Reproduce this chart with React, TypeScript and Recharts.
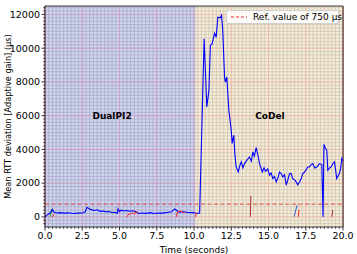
import React from "react";
import {
    LineChart,
    Line,
    XAxis,
    YAxis,
    CartesianGrid,
    ReferenceArea,
    ReferenceLine,
    ReferenceDot,
} from "recharts";

// time (s) and mean RTT deviation (µs) of the main flow
const times = [
    0.0, 0.15, 0.3, 0.45, 0.5, 0.6, 0.8, 1.0, 1.3, 1.6, 1.9, 2.2, 2.5, 2.7, 2.8, 2.95, 3.1, 3.3, 3.5, 3.7,
    3.9, 4.1, 4.3, 4.5, 4.7, 4.85, 4.9, 5.0, 5.1, 5.3, 5.5, 5.7, 5.9, 6.1, 6.3, 6.5, 6.8, 7.1, 7.3, 7.6,
    7.9, 8.2, 8.5, 8.7, 8.85, 9.0, 9.3, 9.6, 9.9, 10.1, 10.3, 10.38, 10.68, 10.86, 11.0, 11.1, 11.22, 11.38, 11.49, 11.6,
    11.76, 11.85, 11.93, 12.05, 12.1, 12.2, 12.34, 12.5, 12.56, 12.67, 12.74, 12.83, 12.97, 13.08, 13.17, 13.28, 13.39, 13.55, 13.72, 13.85,
    13.95, 14.05, 14.17, 14.28, 14.4, 14.58, 14.7, 14.8, 14.95, 15.07, 15.18, 15.29, 15.4, 15.52, 15.63, 15.74, 15.85, 15.96, 16.08, 16.19,
    16.3, 16.41, 16.52, 16.63, 16.8, 16.97, 17.1, 17.2, 17.3, 17.42, 17.53, 17.64, 17.75, 17.86, 17.97, 18.1, 18.24, 18.33, 18.42, 18.58,
    18.66, 18.72, 18.8, 18.91, 18.98, 19.1, 19.2, 19.32, 19.43, 19.58, 19.68, 19.76, 19.85, 19.92, 20.0,
];
const rttDev = [
    0, 120, 200, 350, 450, 280, 230, 250, 220, 240, 200, 220, 230, 300, 560, 500, 430, 380, 420, 330,
    350, 300, 320, 260, 270, 200, 480, 300, 400, 350, 380, 330, 360, 300, 200, 230, 210, 250, 200, 230,
    220, 260, 300, 470, 380, 280, 300, 260, 250, 230, 200, 240, 10560, 6510, 7500, 10160, 10265, 10890, 10650, 11840,
    11800, 11940, 11050, 8290, 7990, 8290, 6320, 5130, 4350, 4840, 3750, 2960, 2660, 3050, 3260, 2900, 3160, 3360, 3550, 3300,
    3850, 3600, 4100, 3700, 3160, 2660, 2900, 2700, 2850, 2470, 2600, 2270, 2400, 2070, 2300, 2660, 2570, 2370, 2500, 1880,
    2200, 2570, 2570, 2270, 2150, 1900, 2100, 2270, 2570, 2660, 2800, 2960, 2960, 3100, 3160, 2900, 2960, 3050, 3160, 3100,
    0, 4300, 4100, 3950, 2760, 2900, 2960, 3150, 3260, 2270, 2450, 2570, 2900, 3460, 3300,
];

// other flows, short bursts near zero (null = gap)
const redTimes = [0.5, 0.6, 0.65, 5.5, 5.6, 5.8, 5.9, 6.0, 6.1, 6.2, 6.25, 8.8, 8.9, 9.1, 9.3, 9.4, 9.45, 10.1, 10.15, 10.2, 17.0, 17.05];
const redVals = [0, 150, null, 0, 150, 200, 250, 150, 300, 200, null, 0, 300, 350, 250, 300, null, 0, 250, null, 0, 420];
const darkRedTimes = [13.78, 13.82, 13.85, 19.25, 19.32];
const darkRedVals = [0, 1250, null, 0, 420];
const greenTimes = [0.35, 0.45, 0.52];
const greenVals = [0, 450, 300];
const steelTimes = [16.72, 16.92];
const steelVals = [0, 700];

const xMajor = [0, 2.5, 5, 7.5, 10, 12.5, 15, 17.5, 20];
const yMajor = [0, 2000, 4000, 6000, 8000, 10000, 12000];
const xMinor = Array.from({ length: 81 }, (_, i) => i * 0.25);
const yMinor = Array.from({ length: 65 }, (_, i) => -400 + i * 200);

const refValue = 750;

const font = "DejaVu Sans";

const toRows = (ts: number[], vs: (number | null)[]) => ts.map((t, i) => ({ t, v: vs[i] }));

const XTick = (props: any) => {
    const { x, y, payload } = props;
    const major = xMajor.includes(payload.value);
    return (
        <g>
            <line x1={x} x2={x} y1={y} y2={y + (major ? 3.5 : 2)} stroke="#000" strokeWidth={major ? 0.8 : 0.6} />
            {major && (
                <text x={x} y={y + 5} dy="0.75em" textAnchor="middle" fontSize={9.5} fontFamily={font} fill="#000">
                    {payload.value.toFixed(1)}
                </text>
            )}
        </g>
    );
};

const YTick = (props: any) => {
    const { x, y, payload } = props;
    const major = yMajor.includes(payload.value);
    return (
        <g>
            <line x1={x - (major ? 3.5 : 2)} x2={x} y1={y} y2={y} stroke="#000" strokeWidth={major ? 0.8 : 0.6} />
            {major && (
                <text x={x - 5} y={y} dy="0.35em" textAnchor="end" fontSize={9.5} fontFamily={font} fill="#000">
                    {payload.value}
                </text>
            )}
        </g>
    );
};

export default function App() {
    return (
        <div style={{ position: "absolute", left: 0, top: 0, width: 357, height: 254, background: "#fff" }}>
            <LineChart width={357} height={254} margin={{ top: 6, right: 14, bottom: 0, left: 0 }}>
                <CartesianGrid stroke="#5e5e5e" strokeWidth={0.5} verticalValues={xMinor} horizontalValues={yMinor} />
                <CartesianGrid stroke="#ff7070" strokeWidth={0.8} verticalValues={xMajor} horizontalValues={yMajor} />
                <XAxis
                    dataKey="t"
                    type="number"
                    domain={[0, 20]}
                    ticks={xMinor}
                    interval={0}
                    tick={<XTick />}
                    tickLine={false}
                    tickSize={0}
                    tickMargin={0}
                    axisLine={false}
                    height={27}
                    allowDataOverflow
                    label={{ value: "Time (seconds)", position: "insideBottom", offset: 1, fontSize: 9, fontFamily: font, fill: "#000" }}
                />
                <YAxis
                    type="number"
                    domain={[-600, 12500]}
                    ticks={yMinor}
                    interval={0}
                    tick={<YTick />}
                    tickLine={false}
                    tickSize={0}
                    tickMargin={0}
                    axisLine={false}
                    width={45}
                    allowDataOverflow
                    label={{
                        value: "Mean RTT deviation [Adaptive gain] (µs)",
                        angle: -90,
                        position: "insideLeft",
                        offset: 8,
                        style: { textAnchor: "middle" },
                        fontSize: 8.2,
                        fontFamily: font,
                        fill: "#000",
                    }}
                />
                <ReferenceArea x1={0} x2={10.1} y1={-600} y2={12500} fill="rgb(180,186,232)" fillOpacity={0.62} stroke="none" />
                <ReferenceArea x1={10.1} x2={20} y1={-600} y2={12500} fill="rgb(238,224,196)" fillOpacity={0.65} stroke="none" />
                <ReferenceLine y={refValue} stroke="#f03030" strokeDasharray="4 2.5" strokeWidth={1.1} strokeOpacity={0.8} />
                <ReferenceDot
                    x={4.5}
                    y={6000}
                    r={0}
                    label={{ value: "DualPI2", position: "center", fontSize: 9, fontWeight: "bold", fontFamily: font, fill: "#000" }}
                />
                <ReferenceDot
                    x={15.1}
                    y={6000}
                    r={0}
                    label={{ value: "CoDel", position: "center", fontSize: 9, fontWeight: "bold", fontFamily: font, fill: "#000" }}
                />
                <Line data={toRows(greenTimes, greenVals)} dataKey="v" stroke="#2ca02c" strokeWidth={1} dot={false} isAnimationActive={false} />
                <Line data={toRows(steelTimes, steelVals)} dataKey="v" stroke="#3a5fd0" strokeWidth={1} dot={false} isAnimationActive={false} />
                <Line data={toRows(darkRedTimes, darkRedVals)} dataKey="v" stroke="#b03030" strokeWidth={1} dot={false} isAnimationActive={false} />
                <Line data={toRows(times, rttDev)} dataKey="v" stroke="#0000ff" strokeWidth={1.1} dot={false} isAnimationActive={false} />
                <Line data={toRows(redTimes, redVals)} dataKey="v" stroke="#ff2020" strokeWidth={1} dot={false} isAnimationActive={false} />
                <ReferenceArea x1={0} x2={20} y1={-600} y2={12500} fill="none" stroke="#000" strokeWidth={0.8} />
            </LineChart>
            <div
                style={{
                    position: "absolute",
                    left: 226,
                    top: 10,
                    width: 113,
                    height: 14,
                    border: "1px solid #d0d0d0",
                    borderRadius: 2,
                    background: "rgba(255,255,255,0.85)",
                    boxSizing: "border-box",
                    fontFamily: font,
                    fontSize: 9,
                    display: "flex",
                    alignItems: "center",
                }}
            >
                <svg width={26} height={12} style={{ flex: "none" }}>
                    <line x1={4} x2={20} y1={6} y2={6} stroke="#f03030" strokeDasharray="3 2" strokeWidth={1.1} />
                </svg>
                <span style={{ whiteSpace: "nowrap" }}>Ref. value of 750 µs</span>
            </div>
        </div>
    );
}
